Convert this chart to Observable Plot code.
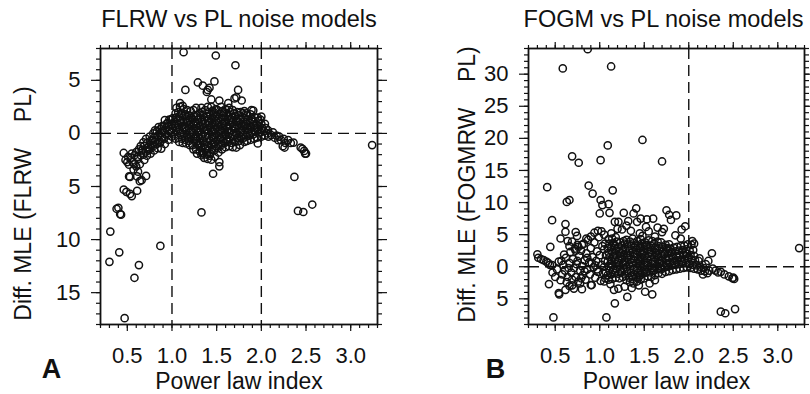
<!DOCTYPE html>
<html>
<head>
<meta charset="utf-8">
<script src="https://cdn.jsdelivr.net/npm/d3@7"></script>
<script src="https://cdn.jsdelivr.net/npm/@observablehq/plot@0.6"></script>
<style>
  html, body { margin: 0; padding: 0; background: #fff; }
  #wrap { display: flex; width: 810px; height: 394px; }
</style>
</head>
<body>
<div id="wrap"></div>
<script>
// ---------- Data ----------
const titleA = "FLRW vs PL noise models";
const titleB = "FOGM vs PL noise models";
const yLabelA = "Diff. MLE (FLRW\u00A0\u00A0\u00A0\u00A0PL)";
const yLabelB = "Diff. MLE (FOGMRW\u00A0\u00A0\u00A0\u00A0PL)";
const xLabel = "Power law index";

const xMajorTicks = [0.5, 1.0, 1.5, 2.0, 2.5, 3.0];
const yMajorTicksA = [-15, -10, -5, 0, 5];
const yMajorTicksB = [-5, 0, 5, 10, 15, 20, 25, 30];
const refLinesXA = [1, 2];
const refLinesXB = [2];

// Panel A: FLRW vs PL  [power law index, diff MLE]
const flrwOutliers = [
  [1.13,7.65],[1.49,7.34],[1.71,6.42],[1.15,4.1],[1.29,4.8],[1.345,4.5],[1.40,4.1],[1.42,4.3],[1.39,3.9],
  [1.475,4.9],[1.44,3.2],[1.53,3.1],[1.70,3.3],[1.74,4.1],[1.72,3.4],[1.78,3.1],[1.09,2.85],[1.12,2.6],
  [1.46,-3.8],[1.53,-2.7],[1.53,-3.1],[2.37,-4.1],[3.24,-1.1],
  [0.47,-17.4],[0.30,-12.1],[0.31,-9.25],[0.41,-11.2],[0.58,-13.6],[0.63,-12.4],[0.87,-10.6],[1.33,-7.44],
  [2.41,-7.3],[2.47,-7.4],[2.57,-6.7],
  [0.38,-7.1],[0.40,-7.0],[0.42,-7.6],[0.43,-7.65],[0.49,-5.5],[0.55,-5.9],[0.61,-5.4],[0.53,-5.7],[0.46,-5.3],
  [0.52,-4.05],[0.53,-4.1],[0.61,-4.05],[0.66,-4.4],[0.71,-4.0],[0.64,-4.5]
];
const flrwLeftBranch = [
  [0.46,-1.84],[0.48,-2.5],[0.50,-2.7],[0.52,-2.95],[0.56,-2.7],[0.58,-2.06],[0.615,-2.2],[0.65,-2.06],
  [0.60,-3.1],[0.64,-2.9],[0.69,-2.5],[0.57,-3.4],[0.62,-3.6],[0.55,-1.9],[0.60,-1.75],[0.63,-1.5],
  [0.65,-1.2],[0.62,-2.4],[0.66,-1.6],[0.54,-2.3],[0.58,-2.9],[0.51,-2.2]
];
const flrwCore = [
  [0.68,-2.0],[0.67,-1.6],[0.69,-1.2],[0.68,-0.85],
  [0.72,-2.1],[0.71,-1.7],[0.73,-1.3],[0.72,-0.9],[0.71,-0.5],
  [0.76,-1.9],[0.75,-1.45],[0.77,-1.1],[0.76,-0.7],[0.75,-0.3],
  [0.80,-1.6],[0.79,-1.2],[0.81,-0.8],[0.80,-0.4],[0.79,0.0],[0.81,0.3],
  [0.84,-1.4],[0.83,-1.0],[0.85,-0.6],[0.84,-0.2],[0.83,0.2],[0.85,0.6],
  [0.88,-1.43],[0.87,-0.8],[0.89,-0.4],[0.88,0.0],[0.87,0.4],[0.89,0.7],
  [0.92,-1.0],[0.91,-0.5],[0.93,-0.1],[0.92,0.3],[0.91,0.7],[0.92,1.26],
  [0.96,-0.6],[0.95,-0.2],[0.97,0.2],[0.96,0.6],[0.95,1.0],[0.97,1.3],
  [1.00,-0.3],[0.99,0.1],[1.01,0.5],[1.00,0.9],[0.99,1.3],[1.01,1.45],
  [1.04,-0.5],[1.03,-0.1],[1.05,0.3],[1.04,0.7],[1.03,1.1],[1.05,1.5],[1.04,1.9],[1.05,2.4],
  [1.08,-0.8],[1.07,-0.4],[1.09,0.0],[1.08,0.4],[1.07,0.8],[1.09,1.2],[1.08,1.6],[1.07,2.0],[1.09,2.5],
  [1.12,-0.9],[1.11,-0.5],[1.13,-0.1],[1.12,0.3],[1.11,0.7],[1.13,1.1],[1.12,1.5],[1.11,1.9],[1.13,2.3],
  [1.16,-0.95],[1.15,-0.6],[1.17,-0.2],[1.16,0.2],[1.15,0.6],[1.17,1.0],[1.16,1.4],[1.15,1.8],[1.17,2.2],
  [1.20,-1.1],[1.19,-0.7],[1.21,-0.3],[1.20,0.1],[1.19,0.5],[1.21,0.9],[1.20,1.3],[1.19,1.7],[1.21,2.1],
  [1.24,-1.5],[1.23,-1.1],[1.25,-0.7],[1.24,-0.3],[1.23,0.1],[1.25,0.5],[1.24,0.9],[1.23,1.3],[1.25,1.7],[1.24,2.2],
  [1.28,-1.9],[1.27,-1.5],[1.29,-1.1],[1.28,-0.7],[1.27,-0.3],[1.29,0.1],[1.28,0.5],[1.27,0.9],[1.29,1.3],[1.28,1.7],[1.27,2.4],
  [1.33,-2.06],[1.31,-1.7],[1.33,-1.3],[1.32,-0.9],[1.31,-0.5],[1.33,-0.1],[1.32,0.3],[1.31,0.7],[1.33,1.1],[1.32,1.5],[1.31,1.9],[1.33,2.4],
  [1.36,-2.3],[1.35,-1.9],[1.37,-1.5],[1.36,-1.1],[1.35,-0.7],[1.37,-0.3],[1.36,0.1],[1.35,0.5],[1.37,0.9],[1.36,1.3],[1.35,1.7],[1.37,2.2],
  [1.40,-2.4],[1.39,-2.0],[1.41,-1.6],[1.40,-1.2],[1.39,-0.8],[1.41,-0.4],[1.40,0.0],[1.39,0.4],[1.41,0.8],[1.40,1.2],[1.39,1.6],[1.41,2.0],[1.40,2.5],
  [1.44,-2.47],[1.43,-1.9],[1.45,-1.5],[1.44,-1.1],[1.43,-0.7],[1.45,-0.3],[1.44,0.1],[1.43,0.5],[1.45,0.9],[1.44,1.3],[1.43,1.7],[1.45,2.1],[1.44,2.5],
  [1.48,-2.2],[1.47,-1.6],[1.49,-1.2],[1.48,-0.8],[1.47,-0.4],[1.49,0.0],[1.48,0.4],[1.47,0.8],[1.49,1.2],[1.48,1.6],[1.47,2.0],[1.49,2.3],
  [1.52,-1.8],[1.51,-1.4],[1.53,-1.0],[1.52,-0.6],[1.51,-0.2],[1.53,0.2],[1.52,0.6],[1.51,1.0],[1.53,1.4],[1.52,1.8],[1.51,2.2],
  [1.56,-1.5],[1.55,-1.1],[1.57,-0.7],[1.56,-0.3],[1.55,0.1],[1.57,0.5],[1.56,0.9],[1.55,1.3],[1.57,1.7],[1.56,2.1],[1.55,2.5],
  [1.60,-1.3],[1.59,-0.9],[1.61,-0.5],[1.60,-0.1],[1.59,0.3],[1.61,0.7],[1.60,1.1],[1.59,1.5],[1.61,1.9],[1.60,2.3],[1.63,2.85],
  [1.64,-1.2],[1.63,-0.8],[1.65,-0.4],[1.64,0.0],[1.63,0.4],[1.65,0.8],[1.64,1.2],[1.63,1.6],[1.65,2.0],[1.64,2.4],
  [1.68,-1.3],[1.67,-0.9],[1.69,-0.5],[1.68,-0.1],[1.67,0.3],[1.69,0.7],[1.68,1.1],[1.67,1.5],[1.69,1.9],[1.68,2.2],
  [1.72,-1.33],[1.71,-0.8],[1.73,-0.4],[1.72,0.0],[1.71,0.4],[1.73,0.8],[1.72,1.2],[1.71,1.6],[1.73,2.0],
  [1.76,-1.1],[1.75,-0.7],[1.77,-0.3],[1.76,0.1],[1.75,0.5],[1.77,0.9],[1.76,1.3],[1.75,1.7],[1.77,2.0],
  [1.81,-0.8],[1.79,-0.5],[1.81,-0.1],[1.80,0.3],[1.79,0.7],[1.81,1.1],[1.80,1.5],[1.79,1.9],[1.81,2.1],
  [1.84,-0.7],[1.83,-0.3],[1.85,0.1],[1.84,0.5],[1.83,0.9],[1.85,1.3],[1.84,1.7],[1.83,1.9],
  [1.88,-0.6],[1.87,-0.2],[1.89,0.2],[1.88,0.6],[1.87,1.0],[1.89,1.4],[1.88,1.8],[1.89,2.2],
  [1.92,-0.5],[1.91,-0.1],[1.93,0.3],[1.92,0.7],[1.91,1.1],[1.93,1.5],[1.91,2.15],
  [1.96,-0.95],[1.95,-0.4],[1.97,0.0],[1.96,0.4],[1.95,0.8],[1.97,1.2],[1.96,1.5],
  [2.00,-0.3],[1.99,0.1],[2.01,0.5],[2.00,0.9],[1.99,1.3],[2.00,1.58],
  [2.04,-0.2],[2.03,0.2],[2.05,0.5],[2.04,0.9],
  [2.08,-0.3],[2.07,0.0],[2.075,0.3]
];
const flrwCoreFill = [
  [1.06,0.55],[1.10,1.0],[1.14,0.45],[1.18,1.2],[1.22,0.3],[1.26,1.05],[1.30,0.25],[1.34,1.2],[1.38,0.3],
  [1.42,1.0],[1.46,0.2],[1.50,1.15],[1.54,0.35],[1.58,1.0],[1.62,0.2],[1.66,1.3],[1.70,0.6],[1.74,1.1],
  [1.78,0.3],[1.82,0.7],[1.86,0.4],[1.90,1.3],[1.94,0.5],[1.98,0.7],[1.30,-1.0],[1.38,-1.4],[1.42,-2.1],
  [1.46,-0.9],[1.34,-1.8],[1.26,-0.5],[1.18,-0.4],[1.54,-0.4],[1.62,-0.7],[1.70,-0.2],[1.10,1.8],[1.22,1.5],
  [1.34,2.0],[1.46,1.8],[1.58,2.0],[1.66,1.7],[0.86,-0.9],[0.78,-0.6],[0.74,-1.6],[0.90,0.2],[0.94,0.9]
];
const flrwRightTail = [
  [2.11,-0.16],[2.15,-0.4],[2.19,-0.64],[2.22,-0.63],[2.24,-1.2],[2.26,-1.33],[2.30,-0.63],[2.36,-0.86],
  [2.44,-1.33],[2.48,-1.65],[2.50,-1.9],[2.27,-0.9],[2.20,-0.3],[2.17,-0.2],[2.13,0.1],[2.25,-0.5],
  [2.33,-0.9],[2.46,-1.45],[2.49,-1.9]
];

// Panel B: FOGM vs PL  [power law index, diff MLE]
const fogmOutliers = [
  [0.865,33.9],[0.585,30.9],[1.128,31.2],[0.69,17.2],[0.764,16.2],[1.01,16.6],[1.09,18.9],[1.48,19.75],
  [1.70,16.4],[0.41,12.4],[0.876,12.65],[0.92,11.4],[1.146,11.9],[0.63,10.1],[0.66,10.4],[1.01,10.4],
  [1.03,9.6],[1.10,9.75],[1.00,8.3],[1.11,8.4],[0.465,7.26],[0.48,-7.9],[1.075,-7.9],
  [2.36,-7.0],[2.41,-7.25],[2.52,-6.6],[3.24,2.9]
];
const fogmLeft = [
  [0.30,1.93],[0.31,1.4],[0.34,1.2],[0.37,1.04],[0.40,0.8],[0.42,0.6],[0.44,0.3],[0.465,0.26],[0.445,3.1],[0.43,-2.7],
  [0.47,-0.9],[0.50,-1.6],[0.52,-0.4],[0.54,0.8],[0.56,-2.1],[0.58,-1.2],[0.59,0.3],[0.61,-0.6],[0.62,1.4],
  [0.63,-2.4],[0.64,-1.6],[0.66,0.6],[0.67,2.3],[0.68,-0.9],[0.69,-2.9],[0.70,1.2],[0.71,-0.2],[0.72,2.8],
  [0.73,-1.6],[0.74,0.4],[0.75,3.4],[0.76,-2.3],[0.77,1.7],[0.78,-0.6],[0.79,2.5],[0.80,0.1],[0.81,-1.3],
  [0.82,3.6],[0.83,1.0],[0.84,-2.0],[0.85,2.1],[0.86,-0.4],[0.87,4.2],[0.88,0.7],[0.89,-1.2],[0.90,2.9],
  [0.91,-2.85],[0.92,1.5],[0.93,-0.1],[0.94,3.8],[0.95,-1.7],[0.96,0.9],[0.97,2.4],[0.98,-0.8],[0.99,4.6],
  [1.00,1.8],[1.01,-2.2],[1.02,0.3],[1.03,3.2],[1.04,-1.0],[1.05,5.0],
  [0.56,4.4],[0.615,5.45],[0.615,6.64],[0.73,5.4],[0.745,4.8],[0.73,2.5],[0.76,3.1],[0.80,3.4],[0.85,4.4],
  [0.90,4.7],[0.94,5.3],[0.98,5.6],[1.02,5.5],[0.66,3.2],[0.69,3.9],[0.64,4.0],
  [0.54,-4.1],[0.545,-4.3],[0.615,-3.6],[0.69,-2.0],[0.71,-3.4],[0.78,-2.6],[0.80,-3.5],[0.90,-2.85],[0.66,-3.0],
  [0.57,0.9],[0.60,1.9],[0.65,-0.2],[0.75,0.9],[0.86,1.4],[0.95,0.2],[0.97,-0.4],[0.91,0.6],[0.83,-0.7],[0.79,-1.8]
];
const fogmCore = [
  [1.06,-1.8],[1.07,-0.9],[1.05,0.0],[1.06,0.9],[1.07,1.8],[1.05,2.7],[1.06,3.6],
  [1.10,-2.0],[1.09,-1.3],[1.11,-0.6],[1.10,0.1],[1.09,0.8],[1.11,1.5],[1.10,2.2],[1.09,2.9],[1.11,3.6],[1.10,4.3],
  [1.14,-1.9],[1.13,-1.2],[1.15,-0.5],[1.14,0.2],[1.13,0.9],[1.15,1.6],[1.14,2.3],[1.13,3.0],[1.15,3.7],[1.14,4.4],[1.13,5.2],
  [1.18,-1.7],[1.17,-1.0],[1.19,-0.3],[1.18,0.4],[1.17,1.1],[1.19,1.8],[1.18,2.5],[1.17,3.2],[1.19,3.9],[1.18,4.6],
  [1.22,-1.8],[1.21,-1.1],[1.23,-0.4],[1.22,0.3],[1.21,1.0],[1.23,1.7],[1.22,2.4],[1.21,3.1],[1.23,3.8],
  [1.26,-1.6],[1.25,-0.9],[1.27,-0.2],[1.26,0.5],[1.25,1.2],[1.27,1.9],[1.26,2.6],[1.25,3.3],[1.27,4.0],
  [1.30,-2.1],[1.29,-1.4],[1.31,-0.7],[1.30,0.0],[1.29,0.7],[1.31,1.4],[1.30,2.1],[1.29,2.8],[1.31,3.5],[1.30,4.2],
  [1.34,-2.4],[1.33,-1.7],[1.35,-1.0],[1.34,-0.3],[1.33,0.4],[1.35,1.1],[1.34,1.8],[1.33,2.5],[1.35,3.2],[1.34,3.9],
  [1.38,-2.6],[1.37,-1.9],[1.39,-1.2],[1.38,-0.5],[1.37,0.2],[1.39,0.9],[1.38,1.6],[1.37,2.3],[1.39,3.0],[1.38,3.7],[1.37,4.4],
  [1.42,-2.3],[1.41,-1.6],[1.43,-0.9],[1.42,-0.2],[1.41,0.5],[1.43,1.2],[1.42,1.9],[1.41,2.6],[1.43,3.3],[1.42,4.0],
  [1.46,-2.0],[1.45,-1.3],[1.47,-0.6],[1.46,0.1],[1.45,0.8],[1.47,1.5],[1.46,2.2],[1.45,2.9],[1.47,3.6],[1.46,4.3],
  [1.50,-1.8],[1.49,-1.1],[1.51,-0.4],[1.50,0.3],[1.49,1.0],[1.51,1.7],[1.50,2.4],[1.49,3.1],[1.51,3.8],
  [1.54,-1.5],[1.53,-0.8],[1.55,-0.1],[1.54,0.6],[1.53,1.3],[1.55,2.0],[1.54,2.7],[1.53,3.4],[1.55,4.1],
  [1.58,-1.6],[1.57,-0.9],[1.59,-0.2],[1.58,0.5],[1.57,1.2],[1.59,1.9],[1.58,2.6],[1.57,3.3],[1.59,4.0],
  [1.62,-1.3],[1.61,-0.6],[1.63,0.1],[1.62,0.8],[1.61,1.5],[1.63,2.2],[1.62,2.9],[1.61,3.6],
  [1.66,-1.0],[1.65,-0.3],[1.67,0.4],[1.66,1.1],[1.65,1.8],[1.67,2.5],[1.66,3.2],[1.65,3.9],
  [1.70,-1.1],[1.69,-0.4],[1.71,0.3],[1.70,1.0],[1.69,1.7],[1.71,2.4],[1.70,3.1],[1.69,3.8],
  [1.74,-0.8],[1.73,-0.1],[1.75,0.6],[1.74,1.3],[1.73,2.0],[1.75,2.7],[1.74,3.4],
  [1.78,-0.7],[1.77,0.0],[1.79,0.7],[1.78,1.4],[1.77,2.1],[1.79,2.8],[1.78,3.5],
  [1.82,-0.5],[1.81,0.2],[1.83,0.9],[1.82,1.6],[1.81,2.3],[1.83,3.0],
  [1.86,-0.4],[1.85,0.3],[1.87,1.0],[1.86,1.7],[1.85,2.4],[1.87,3.1],
  [1.90,-0.3],[1.89,0.4],[1.91,1.1],[1.90,1.8],[1.89,2.5],[1.91,3.2],
  [1.94,-0.2],[1.93,0.5],[1.95,1.2],[1.94,1.9],[1.93,2.6],[1.95,3.3],
  [1.98,-0.1],[1.97,0.6],[1.99,1.3],[1.98,2.0],[1.97,2.7],[1.99,3.5],
  [2.02,-0.2],[2.01,0.4],[2.03,1.1],[2.02,1.8],[2.01,2.5],[2.03,3.4],
  [2.06,-0.3],[2.05,0.3],[2.07,1.0],[2.06,1.7],[2.05,2.6],
  [2.10,-0.4],[2.09,0.2],[2.11,0.9],
  [2.14,-0.6],[2.13,0.0],
  [2.18,-0.7],[2.17,-0.2]
];
const fogmCoreFill = [
  [1.12,0.5],[1.16,1.9],[1.20,0.7],[1.24,2.1],[1.28,0.35],[1.32,1.75],[1.36,0.6],[1.40,2.0],[1.44,0.45],
  [1.48,1.9],[1.52,0.65],[1.56,2.3],[1.60,0.8],[1.64,1.9],[1.68,0.6],[1.72,2.0],[1.76,1.0],[1.80,2.2],
  [1.84,0.6],[1.88,1.4],[1.92,0.8],[1.96,2.3],[2.00,1.5],[1.24,-0.8],[1.36,-1.4],[1.44,-1.6],[1.52,-0.9],
  [1.60,-0.6],[1.68,-0.2],[1.76,0.3],[1.16,3.4],[1.28,3.6],[1.40,3.3],[1.52,3.3],[1.64,2.7],[1.76,2.9]
];
const fogmFringe = [
  [1.17,7.0],[1.21,7.0],[1.27,8.4],[1.41,9.1],[1.38,8.3],[1.32,7.1],[1.42,7.0],[1.46,7.5],[1.53,7.4],[1.60,7.5],
  [1.75,8.8],[1.78,8.1],[1.86,8.0],[1.80,7.3],[1.96,6.3],[1.92,5.8],[1.70,5.4],[1.72,5.9],[1.91,4.4],[2.06,3.6],
  [2.04,4.0],[1.25,5.8],[1.35,5.6],[1.45,5.2],[1.55,5.5],[1.65,6.1],[1.52,6.2],[1.30,6.4],[1.20,5.9],[1.85,4.9],
  [1.62,4.7],[1.48,4.8],
  [1.17,-5.7],[1.31,-4.7],[1.51,-3.9],[1.59,-4.3],[1.16,-3.6],[1.21,-3.4],[1.28,-3.1],[1.36,-3.3],[1.44,-2.9],
  [1.56,-2.6],[1.62,-2.1],[1.12,-2.7],[1.05,-2.3],
  [2.26,2.1],[2.22,0.9],[2.21,-1.0],[2.23,-0.6],[2.30,-0.6],[2.33,-0.9],[2.36,-0.8],[2.45,-1.5],[2.49,-1.8],
  [2.51,-1.9],[2.50,-1.7],[2.40,-1.2],[2.27,-0.3],[2.16,-1.2],[2.19,0.4],[2.12,1.3]
];

const panelA = [...flrwOutliers, ...flrwLeftBranch, ...flrwCore, ...flrwCoreFill, ...flrwRightTail];
const panelB = [...fogmOutliers, ...fogmLeft, ...fogmCore, ...fogmCoreFill, ...fogmFringe];

// ---------- Drawing ----------
const FONT = "'Liberation Sans', Arial, Helvetica, sans-serif";
const INK = "#111";
const dash = "11,6";

function panel({points, xDomain, yDomain, yMajor, refX, title, yLabel, letter,
                marginLeft, marginRight, yLabelDx, yLabelDy, letterDx, titleDx}) {
  const xMinor = d3.range(2, 34).map(i => i / 10);
  const yMinor = d3.range(yDomain[0], yDomain[1] + 1);
  const tickStyle = {stroke: INK, strokeWidth: 1.2};
  return Plot.plot({
    width: 405, height: 394,
    marginLeft, marginRight, marginTop: 48, marginBottom: 70,
    x: {domain: xDomain},
    y: {domain: yDomain},
    style: {fontFamily: FONT, background: "white", color: INK, overflow: "visible"},
    marks: [
      Plot.ruleX(refX, {stroke: INK, strokeWidth: 1.4, strokeDasharray: dash}),
      Plot.ruleY([0], {stroke: INK, strokeWidth: 1.4, strokeDasharray: dash}),
      Plot.dot(points, {x: d => d[0], y: d => d[1], r: 3.6, stroke: INK, strokeWidth: 1.5, fill: "none", clip: true}),
      // minor ticks
      Plot.axisX(xMinor, {anchor: "bottom", tickSize: 4, tickFormat: () => "", label: null, ...tickStyle}),
      Plot.axisX(xMinor, {anchor: "top", tickSize: 4, tickFormat: () => "", label: null, ...tickStyle}),
      Plot.axisY(yMinor, {anchor: "left", tickSize: 4, tickFormat: () => "", label: null, ...tickStyle}),
      Plot.axisY(yMinor, {anchor: "right", tickSize: 4, tickFormat: () => "", label: null, ...tickStyle}),
      // major ticks
      Plot.axisX(xMajorTicks, {anchor: "bottom", tickSize: 7, tickPadding: 16, tickFormat: d3.format(".1f"),
        fontSize: 22, label: null, ...tickStyle}),
      Plot.axisX(xMajorTicks, {anchor: "top", tickSize: 7, tickFormat: () => "", label: null, ...tickStyle}),
      Plot.axisY(yMajor, {anchor: "left", tickSize: 9, tickPadding: 11, tickFormat: d => String(Math.abs(d)),
        fontSize: 22, label: null, ...tickStyle}),
      Plot.axisY(yMajor, {anchor: "right", tickSize: 9, tickFormat: () => "", label: null, ...tickStyle}),
      Plot.frame({stroke: INK, strokeWidth: 1.8}),
      Plot.text([title], {frameAnchor: "top", dx: titleDx, dy: -22, lineAnchor: "bottom", fontSize: 23.5, fill: INK}),
      Plot.text([xLabel], {frameAnchor: "bottom", dy: 64, lineAnchor: "bottom", fontSize: 23, fill: INK}),
      Plot.text([yLabel], {frameAnchor: "left", dx: yLabelDx, dy: yLabelDy, rotate: -90,
        textAnchor: "middle", lineAnchor: "middle", fontSize: 23, fill: INK}),
      Plot.text([letter], {frameAnchor: "bottom-left", dx: letterDx, dy: 53, lineAnchor: "bottom",
        textAnchor: "middle", fontSize: 27, fontWeight: "bold", fill: INK})
    ]
  });
}

const wrap = document.getElementById("wrap");
wrap.appendChild(panel({
  points: panelA, xDomain: [0.2, 3.3], yDomain: [-18, 8], yMajor: yMajorTicksA, refX: refLinesXA,
  title: titleA, yLabel: yLabelA, letter: "A",
  marginLeft: 100, marginRight: 28, yLabelDx: -77, yLabelDy: 17, letterDx: -49, titleDx: 0
}));
wrap.appendChild(panel({
  points: panelB, xDomain: [0.2, 3.3], yDomain: [-9, 34], yMajor: yMajorTicksB, refX: refLinesXB,
  title: titleB, yLabel: yLabelB, letter: "B",
  marginLeft: 123, marginRight: 6, yLabelDx: -61, yLabelDy: -2, letterDx: -33, titleDx: -3
}));
</script>
</body>
</html>
